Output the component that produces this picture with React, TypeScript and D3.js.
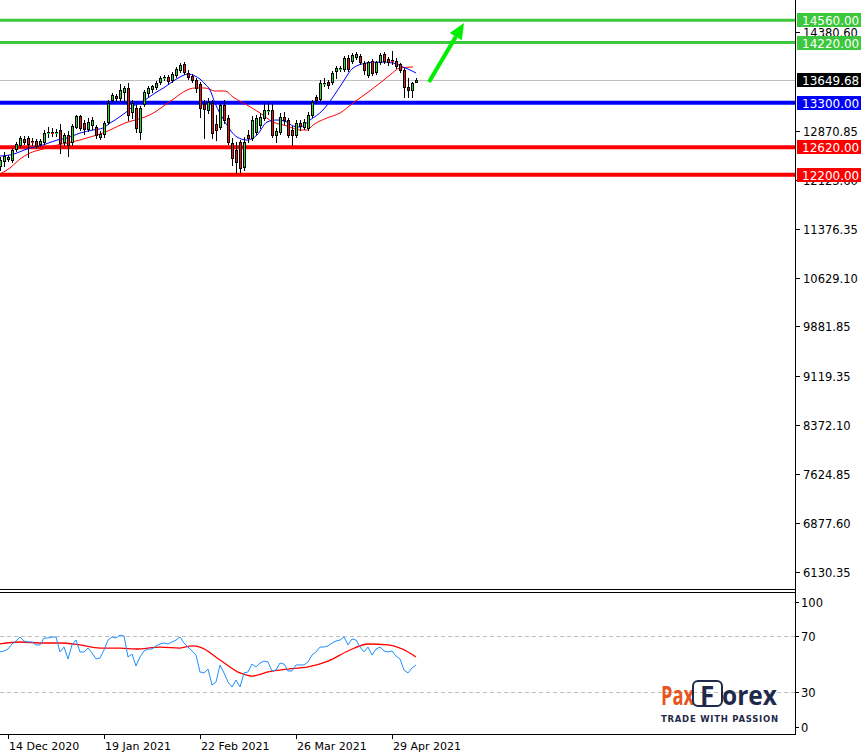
import React from "react";
import * as d3 from "d3";

const W = 865;
const H = 752;

// ---------- price data (daily candles, index 0 = 10 Dec 2020) ----------
const opens = [12333,12410,12440,12425,12593,12654,12746,12761,12715,12715,12669,12700,12837,12853,12837,12883,12700,12807,12700,12929,13097,12990,12898,12960,12929,12776,12822,13005,13342,13403,13372,13464,13525,13158,13219,12853,13280,13449,13510,13540,13617,13678,13693,13647,13724,13800,13891,13754,13708,13647,13586,13280,13189,13296,12975,12929,13265,13067,12685,12578,12700,12318,12807,12761,12853,12960,13067,13174,13189,12807,12853,13082,13036,12883,12807,12990,12929,12914,13112,13387,13357,13586,13617,13617,13785,13815,13815,13983,13937,13999,14014,13907,13724,13937,13769,13922,14044,13968,13953,13937,13891,13800,13540,13494,13617];
const highs = [12471,12547,12501,12608,12700,12791,12791,12791,12761,12746,12746,12883,12929,12914,12898,12975,12837,12868,12975,13112,13112,13036,13067,13082,12960,12868,13021,13342,13449,13433,13586,13556,13601,13342,13265,13250,13494,13556,13571,13632,13708,13724,13724,13769,13846,13907,13922,13800,13739,13678,13617,13342,13372,13342,13112,13296,13342,13112,12761,12700,12730,12776,12883,13097,13112,13143,13296,13296,13280,12914,13143,13158,13067,12944,13036,13036,13051,13158,13342,13418,13647,13678,13647,13785,13861,13861,14014,14029,14060,14075,14044,13937,13937,13968,13937,14060,14075,13999,14090,13983,13907,13830,13678,13617,13678];
const lows = [12272,12333,12410,12394,12562,12624,12669,12471,12654,12608,12639,12669,12776,12791,12791,12532,12654,12486,12654,12914,12883,12822,12868,12898,12761,12746,12776,12975,13311,13326,13326,13311,13036,13067,12853,12746,13250,13403,13464,13510,13586,13647,13601,13617,13693,13769,13739,13662,13617,13464,13082,12761,13143,12761,12730,12898,12990,12669,12348,12226,12242,12272,12700,12730,12822,12914,13036,13128,12776,12700,12822,12975,12776,12654,12776,12883,12898,12883,13082,13296,13326,13556,13525,13586,13678,13785,13785,13785,13907,13968,13891,13739,13693,13724,13739,13891,13907,13876,13891,13830,13769,13387,13387,13387,13617];
const closes = [12425,12486,12471,12578,12669,12761,12700,12669,12700,12639,12715,12837,12853,12837,12853,12685,12807,12654,12944,13097,12914,12898,13005,13036,12807,12822,12990,13296,13418,13372,13494,13525,13112,13296,12914,13219,13464,13525,13556,13601,13678,13693,13632,13739,13815,13876,13769,13693,13647,13525,13219,13204,13311,12837,12883,13265,13036,12700,12455,12394,12303,12700,12761,13036,13067,13082,13189,13189,12807,12868,13082,13036,12807,12807,12990,12944,13005,13112,13311,13342,13601,13601,13571,13754,13830,13830,13983,13815,14029,14044,13922,13800,13922,13754,13922,14029,13937,13922,13937,13861,13800,13540,13494,13601,13649.68];

// moving averages (bar index, price)
const maFastIdx = [0,2.5,7.5,10.75,14.25,16.75,20,23.25,25.75,27.5,28.75,31.25,33.75,36.25,38.75,41.25,43,45,47,48.75,50,51.25,52.5,53.75,56.25,59.25,61.75,64.25,66.75,69.25,71.75,73.25,75,77.5,80.75,83.25,85.75,88.25,91.75,95,98.25,100.75,102,104];
const maFastVal = [12486,12501,12608,12654,12730,12761,12837,12883,12914,12990,13036,13143,13265,13342,13449,13540,13617,13693,13739,13708,13662,13586,13494,13296,13005,12776,12730,12807,13005,13036,13005,12944,12929,13036,13189,13387,13617,13830,13907,13922,13907,13846,13815,13754];
const maSlowIdx = [0,2.5,5,7.5,10.75,13.25,16.75,20,22.5,25,27.5,31.25,33.75,36.25,38.75,41.25,43.75,46.25,48.75,51.25,53.75,56.25,58.25,61.75,65,68.25,71.75,75,76.75,78.25,81.75,85,88.25,91.75,95,97.5,100,103.25];
const maSlowVal = [12211,12303,12440,12532,12593,12639,12685,12730,12776,12822,12883,12990,13036,13082,13158,13265,13372,13479,13525,13525,13479,13479,13387,13265,13143,13005,12944,12883,12883,12960,13067,13143,13296,13449,13601,13724,13830,13846];

// RSI (per bar) and its moving average
const rsiValues = [58.6,59.3,60.7,64.3,66.4,69.3,66.4,65.7,65.7,63.6,63.6,68.6,68.6,69.3,69.3,58.6,62.1,53.6,63.6,67.1,58.6,58.6,61.4,57.9,53.6,54.3,60,67.1,69.3,68.6,70.7,70,55,57.1,48.6,55,59.3,60.7,60.7,62.9,64.3,65,64.3,65.7,67.1,69.3,65,62.1,59.3,56.4,44.3,43.6,46.4,35,37.1,49.3,43.6,37.1,33.6,38.6,33.6,43.6,44.3,50,47.9,50.7,52.1,51.4,45,45.7,50.7,50,45,45,49.3,49.3,49.3,51.4,56.4,58.6,62.1,62.1,62.9,65,66.4,67.1,69.3,63.6,67.9,67.1,62.1,58.6,62.1,56.4,60.7,62.1,59.3,58.6,59.3,55.7,53.6,45.7,43.6,47.1,49.3];
const rsiMaIdx = [0,5,10,15,20,25,30,34,40,45,48,50,55,60,63,67,72,77,82,87,92,97,102,104];
const rsiMaVal = [64.3,65.7,65,65,63.6,61.4,61.4,60.7,62.1,61.4,62.9,62.1,52.9,43.6,41.4,44.3,46.4,47.9,52.1,59.3,64.3,63.6,58.6,55];

// axes
const priceTicks = [14380.6, 12870.85, 12123.6, 11376.35, 10629.1, 9881.85, 9119.35, 8372.1, 7624.85, 6877.6, 6130.35];
const dateTickIdx = [2, 26, 50, 74, 98];
const dateTickLabels = ["14 Dec 2020", "19 Jan 2021", "22 Feb 2021", "26 Mar 2021", "29 Apr 2021"];
const rsiTicks = [100, 70, 30, 0];
const rsiLevels = [70, 30];

// horizontal levels
const resistanceLevels = [14560, 14220];
const pivotLevels = [13300];
const supportLevels = [12620, 12200];
const currentPrice = 13649.68;

// target arrow (bar index, price)
const arrowFrom = { i: 107.25, p: 13617 };
const arrowTo = { i: 116, p: 14520 };

// ---------- layout ----------
const AXIS_X = 796;
const MAIN_BOTTOM = 590;
const RSI_TOP = 593;
const RSI_BOTTOM = 735;

const FONT = "'DejaVu Sans', Tahoma, sans-serif";

export default function App() {
  const x = d3.scaleLinear().domain([0, 1]).range([0, 4]);
  const y = d3.scaleLinear().domain([6130.35, 14380.6]).range([572, 32]);
  const yr = d3.scaleLinear().domain([0, 100]).range([734, 594]);

  const n = closes.length;
  const candles = d3.range(n).map((i) => {
    const o = opens[i], c = closes[i], h = highs[i], l = lows[i];
    const cx = Math.round(x(i));
    const top = Math.round(y(Math.max(o, c)));
    const bot = Math.round(y(Math.min(o, c)));
    const bull = c >= o;
    return { i, cx, top, bot, hy: Math.round(y(h)), ly: Math.round(y(l)), bull };
  });

  const lineGen = d3.line<[number, number]>().x((d) => x(d[0])).y((d) => y(d[1])).curve(d3.curveMonotoneX);
  const fastPath = lineGen(maFastIdx.map((v, k) => [v, maFastVal[k]]));
  const slowPath = lineGen(maSlowIdx.map((v, k) => [v, maSlowVal[k]]));

  const rsiLine = d3.line<[number, number]>().x((d) => x(d[0])).y((d) => yr(d[1]));
  const rsiPath = rsiLine(rsiValues.map((v, i) => [i, v]));
  const rsiMaPath = rsiLine.curve(d3.curveMonotoneX)(rsiMaIdx.map((v, k) => [v, rsiMaVal[k]]));

  const levelLine = (v: number, color: string, width: number) => {
    const yy = y(v);
    return <line key={"l" + v} x1={0} x2={AXIS_X} y1={yy} y2={yy} stroke={color} strokeWidth={width} />;
  };
  const levelLabel = (v: number, bg: string, text: string) => {
    const yy = y(v);
    return (
      <g key={"lb" + v}>
        <rect x={797} y={Math.round(yy) - 7} width={64} height={14} fill={bg} />
        <text x={802} y={Math.round(yy) + 4.5} fill="#fff" fontSize={12} fontFamily={FONT}>{text}</text>
      </g>
    );
  };

  // arrow
  const ax1 = x(arrowFrom.i), ay1 = y(arrowFrom.p), ax2 = x(arrowTo.i), ay2 = y(arrowTo.p);
  const len = Math.hypot(ax2 - ax1, ay2 - ay1);
  const ux = (ax2 - ax1) / len, uy = (ay2 - ay1) / len;
  const hl = 16, hw = 7;
  const bx = ax2 - ux * hl, by = ay2 - uy * hl;
  const head = `${ax2},${ay2} ${bx + -uy * hw},${by + ux * hw} ${bx - -uy * hw},${by - ux * hw}`;

  return (
    <svg width={W} height={H} style={{ position: "absolute", left: 0, top: 0, background: "#fff" }} fontFamily={FONT}>
      <defs>
        <clipPath id="mainClip"><rect x={0} y={0} width={AXIS_X} height={MAIN_BOTTOM} /></clipPath>
        <clipPath id="rsiClip"><rect x={0} y={RSI_TOP} width={AXIS_X} height={RSI_BOTTOM - RSI_TOP} /></clipPath>
      </defs>
      <rect x={0} y={0} width={W} height={H} fill="#fff" />

      <g clipPath="url(#mainClip)">
        {/* current price line */}
        <line x1={0} x2={AXIS_X} y1={Math.round(y(currentPrice)) + 0.5} y2={Math.round(y(currentPrice)) + 0.5} stroke="#c0c0c0" strokeWidth={1} />
        {/* level lines */}
        {resistanceLevels.map((v) => levelLine(v, "#3cc83c", 3))}
        {pivotLevels.map((v) => levelLine(v, "#0000ff", 4))}
        {supportLevels.map((v) => levelLine(v, "#ff0000", 4))}

        {/* moving averages */}
        <path d={slowPath || ""} fill="none" stroke="#ff0000" strokeWidth={1} />
        <path d={fastPath || ""} fill="none" stroke="#0000ff" strokeWidth={1} />

        {/* candles */}
        {candles.map((c) => (
          <g key={c.i}>
            <line x1={c.cx + 0.5} x2={c.cx + 0.5} y1={c.hy} y2={c.ly + 1} stroke="#000" strokeWidth={1} />
            <rect x={c.cx - 1} y={c.top} width={3} height={Math.max(1, c.bot - c.top + 1)} fill={c.bull ? "#22dd22" : "#ee1111"} />
            {c.bot - c.top >= 2 && (
              <rect x={c.cx - 0.5} y={c.top + 0.5} width={2} height={c.bot - c.top} fill="none" stroke="#000" strokeWidth={1} />
            )}
            {c.bot - c.top < 2 && (
              <line x1={c.cx - 1} x2={c.cx + 2} y1={c.top + 0.5} y2={c.top + 0.5} stroke="#000" strokeWidth={1} />
            )}
          </g>
        ))}

        {/* arrow */}
        <line x1={ax1} y1={ay1} x2={bx} y2={by} stroke="#00ee00" strokeWidth={4} />
        <polygon points={head} fill="#00ee00" />
      </g>

      {/* RSI panel */}
      <g clipPath="url(#rsiClip)">
        {rsiLevels.map((v) => (
          <line key={v} x1={0} x2={AXIS_X} y1={Math.round(yr(v)) + 0.5} y2={Math.round(yr(v)) + 0.5} stroke="#c0c0c0" strokeDasharray="4,3" />
        ))}
        <path d={rsiMaPath || ""} fill="none" stroke="#ff0000" strokeWidth={1.3} />
        <path d={rsiPath || ""} fill="none" stroke="#1e90ff" strokeWidth={1} />
      </g>

      {/* frames */}
      <line x1={0} x2={AXIS_X} y1={MAIN_BOTTOM - 0.5} y2={MAIN_BOTTOM - 0.5} stroke="#000" />
      <line x1={0} x2={AXIS_X} y1={RSI_TOP - 0.5} y2={RSI_TOP - 0.5} stroke="#000" />
      <line x1={0} x2={AXIS_X} y1={RSI_BOTTOM - 0.5} y2={RSI_BOTTOM - 0.5} stroke="#000" />
      <line x1={AXIS_X - 0.5} x2={AXIS_X - 0.5} y1={0} y2={RSI_BOTTOM} stroke="#000" />

      {/* price axis */}
      {priceTicks.map((v) => {
        const yy = Math.round(y(v));
        return (
          <g key={v}>
            <line x1={AXIS_X} x2={AXIS_X + 4} y1={yy + 0.5} y2={yy + 0.5} stroke="#000" />
            <text x={803} y={yy + 4.5} fontSize={11.5} fill="#000">{v.toFixed(2)}</text>
          </g>
        );
      })}

      {/* level labels */}
      {resistanceLevels.map((v) => levelLabel(v, "#3cc83c", v.toFixed(2)))}
      {levelLabel(currentPrice, "#000", currentPrice.toFixed(2))}
      {pivotLevels.map((v) => levelLabel(v, "#0000ff", v.toFixed(2)))}
      {supportLevels.map((v) => levelLabel(v, "#ff0000", v.toFixed(2)))}

      {/* RSI axis */}
      {rsiTicks.map((v) => {
        const yy = Math.min(727, Math.max(602, Math.round(yr(v))));
        return (
          <g key={"r" + v}>
            <line x1={AXIS_X} x2={AXIS_X + 3} y1={yy + 0.5} y2={yy + 0.5} stroke="#000" />
            <text x={801} y={yy + 4.5} fontSize={11.5} fill="#000">{v}</text>
          </g>
        );
      })}

      {/* date axis */}
      {dateTickIdx.map((idx, k) => {
        const xx = Math.round(x(idx));
        return (
          <g key={"d" + idx}>
            <line x1={xx + 0.5} x2={xx + 0.5} y1={RSI_BOTTOM} y2={RSI_BOTTOM + 4} stroke="#000" />
            <text x={xx + 1} y={750} fontSize={11} fill="#000">{dateTickLabels[k]}</text>
          </g>
        );
      })}

      {/* logo */}
      <g>
        <text x={661} y={705} fontSize={26} fontWeight="bold" fill="#e8541e" fontFamily="'Open Sans', 'DejaVu Sans', sans-serif" textLength={33} lengthAdjust="spacingAndGlyphs">Pax</text>
        <rect x={693} y={681} width={29} height={25} rx={5} fill="none" stroke="#1f2a48" strokeWidth={2} />
        <text x={700} y={705} fontSize={26} fontWeight="bold" fill="#1f2a48" fontFamily="'Open Sans', 'DejaVu Sans', sans-serif">F</text>
        <text x={722} y={705} fontSize={26} fontWeight="bold" fill="#1f2a48" fontFamily="'Open Sans', 'DejaVu Sans', sans-serif" textLength={55} lengthAdjust="spacingAndGlyphs">orex</text>
        <text x={661} y={722} fontSize={8.5} fontWeight="bold" fill="#1f2a48" fontFamily="'DejaVu Sans', sans-serif" textLength={117} lengthAdjust="spacing">TRADE WITH PASSION</text>
      </g>
    </svg>
  );
}
